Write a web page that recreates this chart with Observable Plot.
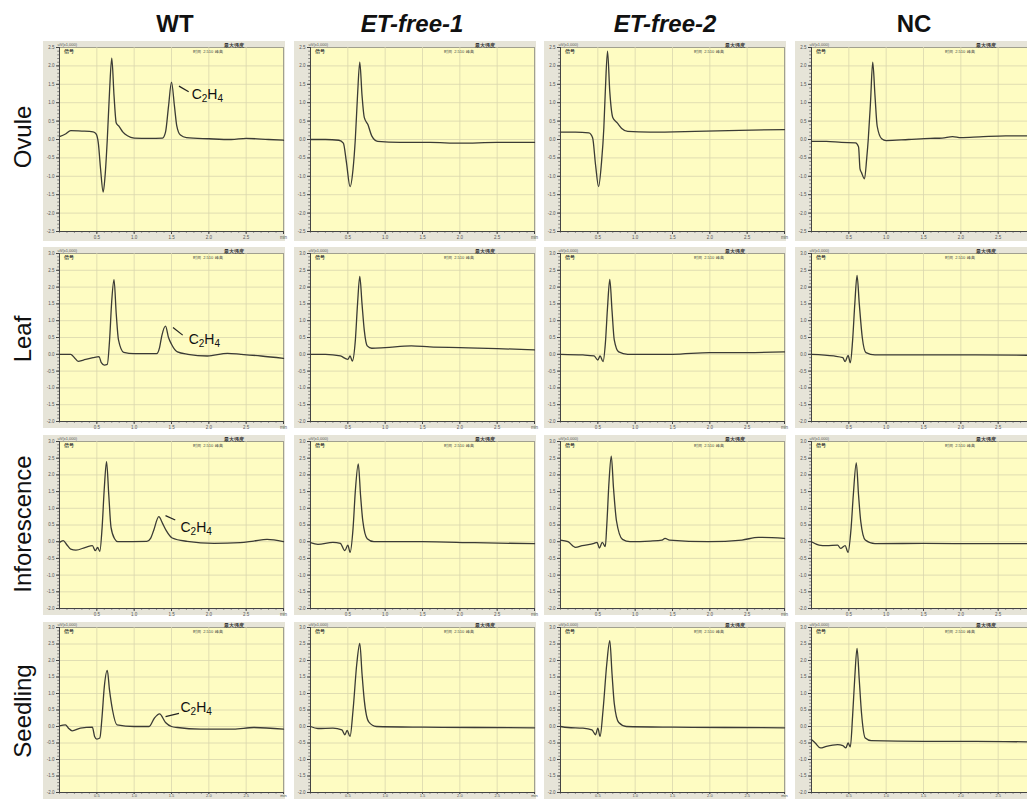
<!DOCTYPE html>
<html><head><meta charset="utf-8">
<script src="https://cdn.jsdelivr.net/npm/d3@7"></script>
<script src="https://cdn.jsdelivr.net/npm/@observablehq/plot@0.6"></script>
<style>
body{margin:0;background:#fff;}
#fig{position:relative;width:1027px;height:799px;overflow:hidden;font-family:Arial,"Liberation Sans",sans-serif;}
.col{position:absolute;top:12px;line-height:24px;font-weight:bold;font-size:24px;transform:translateX(-50%);white-space:nowrap;color:#111}
.row{position:absolute;line-height:24px;font-size:24px;white-space:nowrap;transform:translate(-50%,-50%) rotate(-90deg);color:#111}
.panel{position:absolute}
</style></head><body><div id="fig"></div>
<script>
// ---- labels ----
const columns = ["WT", "ET-free-1", "ET-free-2", "NC"];
const rows = ["Ovule", "Leaf", "Inforescence", "Seedling"];
const xTicks = [0.5, 1.0, 1.5, 2.0, 2.5, 3.0];

// ---- traces: [retention time (min), signal (uV x1,000)] ----
const ovuleWT = [[0,0.08],[0.08,0.15],[0.15,0.24],[0.3,0.23],[0.45,0.21],[0.49,0.15],[0.52,-0.1],[0.55,-0.8],[0.585,-1.43],[0.61,-1.0],[0.64,0.0],[0.67,1.3],[0.70,2.21],[0.73,1.2],[0.76,0.45],[0.8,0.35],[0.85,0.2],[0.91,0.1],[1.0,0.04],[1.2,0.03],[1.38,0.04],[1.42,0.2],[1.46,0.9],[1.5,1.56],[1.54,0.9],[1.57,0.38],[1.62,0.12],[1.7,0.05],[2.0,0.02],[2.3,0.0],[2.5,0.03],[2.8,0.0],[3.0,-0.02]];
const ovuleET1 = [[0,0.0],[0.2,0.0],[0.38,-0.02],[0.44,-0.1],[0.48,-0.6],[0.53,-1.28],[0.57,-0.8],[0.6,0.0],[0.63,1.2],[0.66,2.1],[0.69,1.2],[0.72,0.6],[0.77,0.4],[0.82,0.1],[0.9,-0.05],[1.2,-0.08],[1.6,-0.08],[2.0,-0.1],[2.5,-0.08],[3.0,-0.08]];
const ovuleET2 = [[0,0.2],[0.2,0.2],[0.38,0.18],[0.43,0.05],[0.47,-0.7],[0.51,-1.28],[0.55,-0.6],[0.58,0.3],[0.6,1.3],[0.63,2.4],[0.66,1.3],[0.7,0.6],[0.76,0.45],[0.82,0.3],[0.9,0.22],[1.2,0.2],[1.8,0.22],[2.4,0.25],[3.0,0.27]];
const ovuleNC = [[0,-0.05],[0.2,-0.05],[0.4,-0.08],[0.59,-0.09],[0.63,-0.2],[0.65,-0.8],[0.67,-0.9],[0.71,-1.07],[0.74,-0.5],[0.76,0.0],[0.79,1.0],[0.82,2.1],[0.85,1.2],[0.88,0.36],[0.94,0.02],[1.0,-0.03],[1.3,0.0],[1.59,0.03],[1.75,0.04],[1.89,0.08],[2.0,0.05],[2.25,0.07],[2.6,0.1],[2.9,0.1],[3.0,0.1]];

const leafWT = [[0,0.0],[0.15,0.0],[0.2,-0.1],[0.25,-0.21],[0.32,-0.17],[0.45,-0.1],[0.53,-0.07],[0.56,-0.25],[0.6,-0.32],[0.64,-0.3],[0.67,0.4],[0.7,1.6],[0.73,2.22],[0.76,1.2],[0.79,0.43],[0.86,0.06],[1.0,0.02],[1.3,0.02],[1.34,0.2],[1.37,0.55],[1.42,0.84],[1.46,0.5],[1.5,0.3],[1.58,0.07],[1.72,0.0],[1.98,-0.05],[2.25,0.03],[2.43,0.0],[2.7,-0.05],[3.0,-0.12]];
const leafET1 = [[0,0.0],[0.2,0.0],[0.4,-0.05],[0.5,-0.15],[0.53,-0.05],[0.56,-0.2],[0.6,0.4],[0.63,1.5],[0.66,2.32],[0.69,1.5],[0.72,0.72],[0.76,0.25],[0.82,0.18],[1.0,0.2],[1.35,0.25],[1.6,0.22],[2.0,0.2],[2.5,0.17],[3.0,0.13]];
const leafET2 = [[0,0.0],[0.3,-0.02],[0.45,-0.05],[0.5,-0.17],[0.53,-0.05],[0.57,-0.22],[0.6,0.3],[0.63,1.4],[0.66,2.23],[0.69,1.3],[0.72,0.43],[0.78,0.07],[0.9,0.0],[1.5,0.0],[2.0,0.05],[2.5,0.05],[3.0,0.07]];
const leafNC = [[0,0.0],[0.3,-0.05],[0.42,-0.1],[0.45,-0.22],[0.49,-0.03],[0.52,-0.25],[0.55,0.4],[0.58,1.5],[0.61,2.35],[0.64,1.5],[0.68,0.5],[0.73,0.05],[0.85,-0.02],[1.5,-0.02],[2.2,-0.02],[3.0,-0.03]];

const inflWT = [[0,-0.02],[0.05,0.03],[0.1,-0.1],[0.15,-0.22],[0.22,-0.25],[0.35,-0.17],[0.44,-0.12],[0.48,-0.27],[0.51,-0.17],[0.54,-0.29],[0.57,0.4],[0.6,1.6],[0.63,2.4],[0.66,1.4],[0.69,0.43],[0.74,0.08],[0.78,0.0],[1.17,0.01],[1.22,0.1],[1.26,0.33],[1.33,0.75],[1.38,0.55],[1.43,0.33],[1.51,0.11],[1.71,0.01],[2.07,-0.05],[2.42,-0.03],[2.6,0.02],[2.78,0.07],[3.0,0.0]];
const inflET1 = [[0,-0.03],[0.1,-0.08],[0.3,-0.02],[0.4,-0.05],[0.46,-0.27],[0.5,-0.1],[0.53,-0.32],[0.57,0.4],[0.6,1.5],[0.64,2.33],[0.67,1.4],[0.7,0.63],[0.76,0.09],[0.85,0.0],[1.5,0.0],[2.2,-0.03],[3.0,-0.06]];
const inflET2 = [[0,0.05],[0.1,0.0],[0.2,-0.17],[0.29,-0.12],[0.45,-0.05],[0.49,-0.02],[0.52,-0.19],[0.56,-0.02],[0.6,-0.15],[0.62,0.5],[0.65,1.8],[0.68,2.56],[0.71,1.6],[0.75,0.62],[0.83,0.07],[0.93,0.0],[1.2,0.02],[1.36,0.05],[1.4,0.1],[1.46,0.05],[1.98,0.0],[2.43,0.05],[2.65,0.13],[3.0,0.1]];
const inflNC = [[0,0.0],[0.1,-0.1],[0.2,-0.12],[0.35,-0.1],[0.39,-0.2],[0.45,-0.12],[0.49,-0.32],[0.53,0.4],[0.56,1.4],[0.6,2.36],[0.63,1.4],[0.66,0.6],[0.72,0.05],[0.85,-0.06],[1.5,-0.05],[2.2,-0.06],[3.0,-0.06]];

const seedWT = [[0,0.02],[0.08,0.05],[0.12,-0.05],[0.17,-0.13],[0.28,-0.05],[0.44,-0.02],[0.47,-0.3],[0.5,-0.38],[0.54,-0.35],[0.57,0.3],[0.6,1.2],[0.64,1.7],[0.67,1.1],[0.71,0.5],[0.77,0.05],[1.0,0.0],[1.2,0.0],[1.27,0.25],[1.34,0.38],[1.42,0.12],[1.5,0.0],[1.58,-0.03],[1.89,-0.08],[2.33,-0.08],[2.6,-0.03],[3.0,-0.08]];
const seedET1 = [[0,0.0],[0.1,-0.06],[0.3,-0.05],[0.42,-0.1],[0.46,-0.25],[0.49,-0.12],[0.53,-0.3],[0.57,0.5],[0.62,1.9],[0.66,2.52],[0.69,1.6],[0.72,0.8],[0.78,0.14],[0.88,0.0],[1.5,-0.02],[2.2,-0.03],[3.0,-0.04]];
const seedET2 = [[0,0.0],[0.1,-0.03],[0.3,-0.05],[0.42,-0.1],[0.47,-0.25],[0.5,-0.05],[0.53,-0.3],[0.57,0.5],[0.62,1.9],[0.66,2.6],[0.69,1.6],[0.72,0.7],[0.78,0.12],[0.88,0.0],[1.5,-0.02],[2.2,-0.03],[3.0,-0.04]];
const seedNC = [[0,-0.4],[0.05,-0.5],[0.12,-0.65],[0.2,-0.6],[0.35,-0.55],[0.42,-0.58],[0.46,-0.65],[0.49,-0.5],[0.52,-0.62],[0.55,0.3],[0.58,1.5],[0.61,2.37],[0.64,1.4],[0.67,0.4],[0.72,-0.35],[0.8,-0.43],[1.5,-0.45],[2.2,-0.45],[3.0,-0.47]];

// ---- C2H4 annotations in WT column: [x1, y1, x2, y2, textX, textY] ----
const annOvule = [1.6, 1.45, 1.73, 1.3, 1.77, 1.23];
const annLeaf = [1.52, 0.8, 1.65, 0.57, 1.73, 0.43];
const annInfl = [1.42, 0.78, 1.55, 0.65, 1.62, 0.42];
const annSeed = [1.42, 0.3, 1.6, 0.4, 1.62, 0.59];

const traces = [
  [ovuleWT, ovuleET1, ovuleET2, ovuleNC],
  [leafWT, leafET1, leafET2, leafNC],
  [inflWT, inflET1, inflET2, inflNC],
  [seedWT, seedET1, seedET2, seedNC]
];
const annotations = [annOvule, annLeaf, annInfl, annSeed];

// ---- layout / style ----
const colLeft = [43, 294, 544, 795];
const colCenter = [175, 412, 665, 914];
const rowTop = [41, 247, 435, 622];
const rowH = [200, 181, 180, 177];
const rowMT = [6, 6, 6, 5];
const rowMB = [10, 7, 7, 7];
const rowCenter = [137, 339, 524, 711];
const YELLOW = "#fefcc2";
const GRID = "#d9d6ad";
const FRAMEBG = "#e6e4d8";
const AX = "#444";
const LINE = "#3b3b35";

const fig = document.getElementById("fig");

columns.forEach((c, i) => {
  const d = document.createElement("div");
  d.className = "col";
  d.style.left = colCenter[i] + "px";
  if (i === 1 || i === 2) d.style.fontStyle = "italic";
  d.textContent = c;
  fig.appendChild(d);
});
rows.forEach((r, i) => {
  const d = document.createElement("div");
  d.className = "row";
  d.style.left = "23px";
  d.style.top = rowCenter[i] + "px";
  d.textContent = r;
  fig.appendChild(d);
});

const fmt = d => (d < 0 ? "-" : "") + Math.abs(d).toFixed(1);

function makePanel(r, c) {
  const ydom = r === 0 ? [-2.5, 2.5] : [-2, 3];
  const yMajor = d3.range(0, 11).map(k => ydom[0] + k * 0.5);
  const yMinor = d3.range(0, 51).map(k => ydom[0] + k * 0.1);
  const xMinor = d3.range(0, 31).map(k => k * 0.1);
  const xLab = c === 3 ? xTicks.slice(0, 5) : xTicks; // last column is cut off at the window edge
  const last = r === 3;
  const pts = traces[r][c].map(([x, y]) => ({x, y}));
  const marks = [
    Plot.frame({fill: YELLOW, stroke: "#8d8d80", strokeWidth: 0.8}),
    Plot.ruleX(xTicks.slice(0, 5), {stroke: GRID, strokeWidth: 0.8}),
    Plot.ruleY(yMajor.slice(1, 10), {stroke: GRID, strokeWidth: 0.8}),
    Plot.axisY(yMinor, {tickSize: 1.8, fill: "none", label: null, stroke: AX, strokeWidth: 0.6}),
    Plot.axisY(yMajor, {tickSize: 3, tickPadding: 2, tickFormat: fmt, label: null, stroke: AX, fill: "#555", fontSize: 4.5}),
    Plot.axisX(xMinor, {tickSize: 1.8, fill: "none", label: null, stroke: AX, strokeWidth: 0.6}),
    Plot.axisX(xLab, {tickSize: last ? 2 : 3, tickPadding: last ? 0 : 1, tickFormat: d => d === 3 ? "min" : d.toFixed(1), label: null, stroke: AX, fill: "#555", fontSize: last ? 4 : 4.5}),
    Plot.ruleX([0], {stroke: AX, strokeWidth: 1}),
    Plot.ruleY([ydom[0]], {stroke: AX, strokeWidth: 1}),
    Plot.text(["uV(x1,000)"], {frameAnchor: "top-left", dx: -2, dy: -4, fontSize: 4, fill: "#555", textAnchor: "start"}),
    Plot.text(["信号"], {frameAnchor: "top-left", dx: 4, dy: 2, fontSize: 4.5, fill: "#333", fontWeight: "bold", textAnchor: "start"}),
    Plot.text(["最大强度"], {frameAnchor: "top-right", dx: -40, dy: -4, fontSize: 4.5, fill: "#333", fontWeight: "bold", textAnchor: "end"}),
    Plot.text(["时间  2.510  峰高"], {frameAnchor: "top-right", dx: -60, dy: 3, fontSize: 4, fill: "#444", textAnchor: "end"}),
    Plot.line(pts, {x: "x", y: "y", curve: "monotone-x", stroke: LINE, strokeWidth: 1.3})
  ];
  if (c === 0) {
    const a = annotations[r];
    marks.push(Plot.link([a], {x1: d => d[0], y1: d => d[1], x2: d => d[2], y2: d => d[3], stroke: "#222", strokeWidth: 1.2}));
    marks.push(Plot.text([a], {x: d => d[4], y: d => d[5], text: () => "C2H4", textAnchor: "start", fontSize: 14, fill: "#111", fontFamily: "Arial, 'Liberation Sans', sans-serif"}));
  }
  const svg = Plot.plot({
    width: 242,
    height: rowH[r],
    marginLeft: 16,
    marginRight: 2,
    marginTop: rowMT[r],
    marginBottom: rowMB[r],
    x: {domain: [0, 3], axis: null},
    y: {domain: ydom, axis: null},
    style: {background: FRAMEBG, fontFamily: "Arial, 'Liberation Sans', sans-serif", overflow: "visible"},
    marks
  });
  // subscripts in C2H4
  svg.querySelectorAll("text").forEach(t => {
    if (t.textContent === "C2H4") {
      t.innerHTML = 'C<tspan dy="3" font-size="10">2</tspan><tspan dy="-3">H</tspan><tspan dy="3" font-size="10">4</tspan>';
    }
  });
  svg.classList.add("panel");
  svg.style.position = "absolute";
  svg.style.left = colLeft[c] + "px";
  svg.style.top = rowTop[r] + "px";
  fig.appendChild(svg);
}

for (let r = 0; r < 4; r++) for (let c = 0; c < 4; c++) makePanel(r, c);
</script>
</body></html>
